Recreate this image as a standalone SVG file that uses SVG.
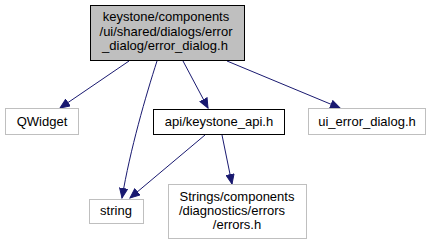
<svg xmlns="http://www.w3.org/2000/svg" width="431" height="245" viewBox="0 0 431 245">
<style>
text{font-family:"Liberation Sans",Arial,sans-serif;font-size:13px;fill:#000;text-anchor:middle}
.n{fill:#fff;stroke:#bfbfbf}
.e{fill:none;stroke:#191970}
</style>
<defs>
<marker id="a" markerWidth="11" markerHeight="9" refX="10" refY="4.5" orient="auto" markerUnits="userSpaceOnUse">
<path d="M0.5,0.5 L10,4.5 L0.5,8.5 Z" fill="#191970" stroke="#191970"/>
</marker>
</defs>
<rect width="431" height="245" fill="#fff"/>
<g id="edges">
<path class="e" marker-end="url(#a)" d="M129,61 L60,108"/>
<path class="e" marker-end="url(#a)" d="M157,61 C146,95 130,150 122,198"/>
<path class="e" marker-end="url(#a)" d="M183,61 L208,108"/>
<path class="e" marker-end="url(#a)" d="M227,61 L340,108"/>
<path class="e" marker-end="url(#a)" d="M205,135 L130,198"/>
<path class="e" marker-end="url(#a)" d="M222,135 L232,184"/>
</g>
<g id="main">
<rect x="90.5" y="5.5" width="154" height="55" fill="#bfbfbf" stroke="#000"/>
<text x="166" y="21">keystone/components</text>
<text x="166" y="36">/ui/shared/dialogs/error</text>
<text x="165" y="50">_dialog/error_dialog.h</text>
</g>
<g id="qwidget">
<rect class="n" x="5.5" y="108.5" width="73" height="26"/>
<text x="42" y="126">QWidget</text>
</g>
<g id="api">
<rect x="153.5" y="109.5" width="131" height="25" fill="#fff" stroke="#000"/>
<text x="219" y="126">api/keystone_api.h</text>
</g>
<g id="ui_error">
<rect class="n" x="308.5" y="108.5" width="117" height="26"/>
<text x="367" y="126">ui_error_dialog.h</text>
</g>
<g id="string">
<rect class="n" x="89.5" y="199.5" width="54" height="24"/>
<text x="116" y="215">string</text>
</g>
<g id="errors">
<rect class="n" x="168.5" y="184.5" width="138" height="54"/>
<text x="237" y="201">Strings/components</text>
<text x="232" y="215">/diagnostics/errors</text>
<text x="237" y="229">/errors.h</text>
</g>
</svg>
